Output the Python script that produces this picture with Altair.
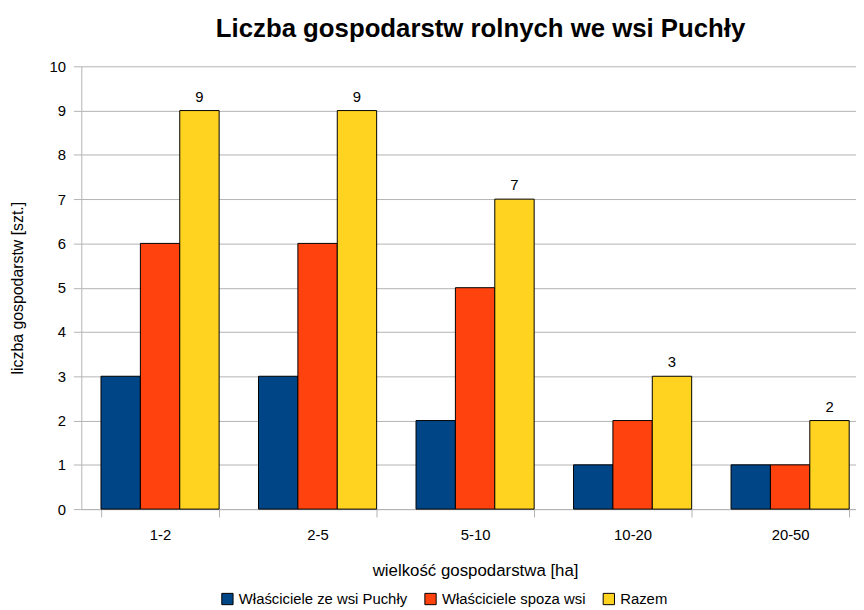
import altair as alt
import pandas as pd

categories = ["1-2", "2-5", "5-10", "10-20", "20-50"]
series = ["Właściciele ze wsi Puchły", "Właściciele spoza wsi", "Razem"]
ze_wsi = [3, 3, 2, 1, 1]
spoza = [6, 6, 5, 2, 1]
razem = [9, 9, 7, 3, 2]
colors = ["#004586", "#ff420e", "#ffd320"]

rows = []
for i, c in enumerate(categories):
    for s, vals in zip(series, [ze_wsi, spoza, razem]):
        rows.append({"kat": c, "seria": s, "liczba": vals[i]})
df = pd.DataFrame(rows)

FONT = "Liberation Sans"

x = alt.X("kat:N", sort=categories, title="wielkość gospodarstwa [ha]",
          scale=alt.Scale(paddingInner=0.25, paddingOuter=0.125, range=[0, 795]),
          axis=alt.Axis(labelAngle=0, tickBand="extent", grid=False, tickSize=8,
                        labelPadding=11, titlePadding=20, labelFontSize=15,
                        titleFontSize=17, domainColor="#b3b3b3", tickColor="#b3b3b3"))
xo = alt.XOffset("seria:N", sort=series, scale=alt.Scale(paddingInner=0, paddingOuter=0))
y = alt.Y("liczba:Q", title="liczba gospodarstw [szt.]",
          scale=alt.Scale(domain=[0, 10], nice=False),
          axis=alt.Axis(values=list(range(0, 11)), tickSize=8, labelPadding=8,
                        titlePadding=24, labelFontSize=15, titleFontSize=16,
                        gridColor="#b3b3b3", domainColor="#b3b3b3", tickColor="#b3b3b3"))

bars = alt.Chart(df).mark_bar(stroke="black", strokeWidth=1).encode(
    x=x, xOffset=xo, y=y,
    color=alt.Color("seria:N", sort=series, title=None,
                    scale=alt.Scale(domain=series, range=colors),
                    legend=alt.Legend(orient="none", legendX=140, legendY=530,
                                      direction="horizontal", symbolType="square",
                                      symbolSize=130, symbolStrokeColor="black",
                                      symbolStrokeWidth=1, labelFontSize=15,
                                      labelLimit=0, columnPadding=14, symbolOffset=0,
                                      labelOffset=4)),
)

labels = alt.Chart(df).transform_filter(alt.datum.seria == "Razem").mark_text(
    dy=-14, fontSize=15, font=FONT, color="black"
).encode(x=x, xOffset=xo, y=y, text="liczba:Q")

chart = alt.layer(bars, labels).properties(
    width=782, height=447,
    title=alt.TitleParams("Liczba gospodarstw rolnych we wsi Puchły", fontSize=26,
                          fontWeight="bold", font=FONT, anchor="middle", dx=12, offset=18),
    autosize=alt.AutoSizeParams(type="none"),
    padding={"left": 74, "top": 56, "right": 0, "bottom": 99},
).configure(font=FONT).configure_axis(
    labelFont=FONT, titleFont=FONT, labelColor="black", titleColor="black",
    titleFontWeight="normal"
).configure_legend(labelFont=FONT, labelColor="black").configure_view(stroke=None)

chart.save("out.html", embed_options={"renderer": "svg", "actions": False})
